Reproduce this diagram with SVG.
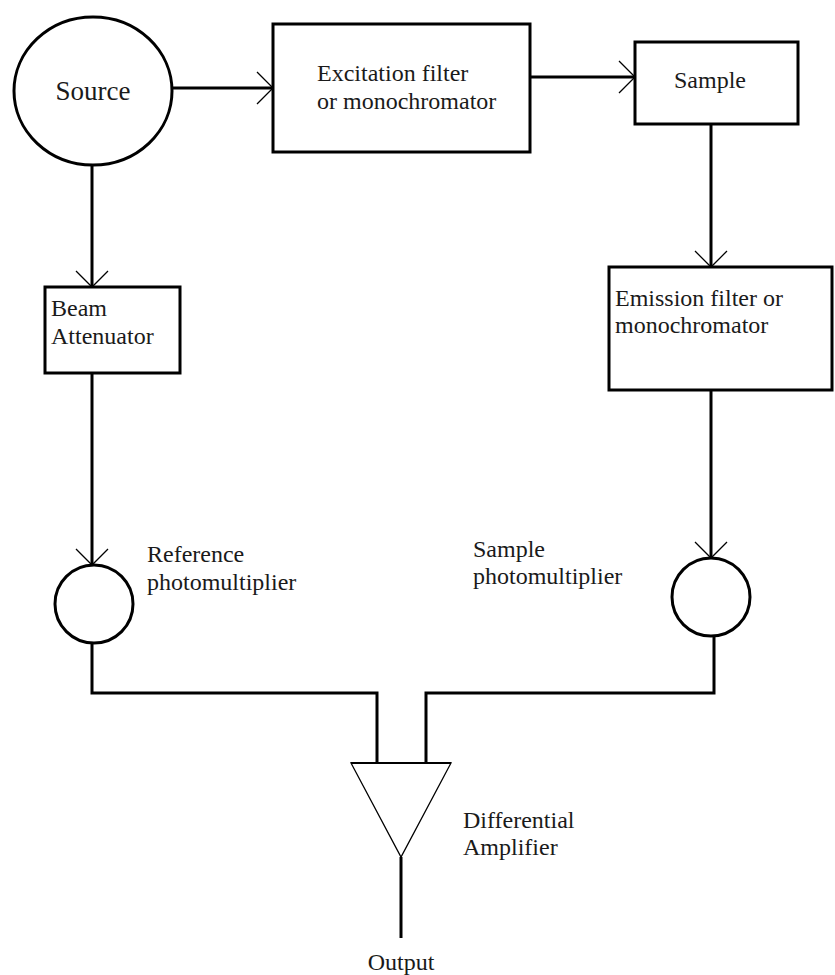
<svg xmlns="http://www.w3.org/2000/svg" width="835" height="975" viewBox="0 0 835 975" font-family="'Liberation Serif', 'Times New Roman', 'DejaVu Serif', serif">
<style>
.shape{fill:#fff;stroke:#000;stroke-width:3}
.wire{fill:none;stroke:#000;stroke-width:3}
.thin{fill:#fff;stroke:#000;stroke-width:1.3}
.lbl{font-family:'Liberation Serif','Times New Roman','DejaVu Serif',serif;font-size:24px;fill:#1a1a1a}
</style>
<defs>
<marker id="arr" markerUnits="userSpaceOnUse" markerWidth="40" markerHeight="40" viewBox="-20 -20 40 40" refX="0" refY="0" orient="auto">
<path d="M-16,-16 L0,0 L-16,16" fill="none" stroke="#000" stroke-width="1.3"/>
</marker>
</defs>
<rect width="835" height="975" fill="#fff"/>
<g id="connectors">
<path class="wire" d="M172,88 H273" marker-end="url(#arr)"/>
<path class="wire" d="M530,77 H635" marker-end="url(#arr)"/>
<path class="wire" d="M711,124 V267" marker-end="url(#arr)"/>
<path class="wire" d="M92,165 V287" marker-end="url(#arr)"/>
<path class="wire" d="M92,373 V565" marker-end="url(#arr)"/>
<path class="wire" d="M711,390 V558" marker-end="url(#arr)"/>
<path class="wire" d="M92,643 V693 H377 V763"/>
<path class="wire" d="M714,636 V693 H426 V763"/>
<path class="wire" d="M401,857 V938"/>
</g>
<g id="source">
<ellipse class="shape" cx="93" cy="91" rx="79" ry="74"/>
<text class="lbl" x="93" y="100" text-anchor="middle" style="font-size:27px">Source</text>
</g>
<g id="excitation">
<rect class="shape" x="273" y="24" width="257" height="128"/>
<text class="lbl" x="317" y="81">Excitation filter</text>
<text class="lbl" x="317" y="109">or monochromator</text>
</g>
<g id="sample">
<rect class="shape" x="635" y="42" width="163" height="82"/>
<text class="lbl" x="710" y="88" text-anchor="middle">Sample</text>
</g>
<g id="emission">
<rect class="shape" x="609" y="267" width="223" height="123"/>
<text class="lbl" x="615" y="306">Emission filter or</text>
<text class="lbl" x="615" y="333">monochromator</text>
</g>
<g id="beam">
<rect class="shape" x="45" y="287" width="135" height="86"/>
<text class="lbl" x="51" y="316">Beam</text>
<text class="lbl" x="51" y="344">Attenuator</text>
</g>
<g id="refpm">
<circle class="shape" cx="94" cy="604" r="39"/>
<text class="lbl" x="147" y="562">Reference</text>
<text class="lbl" x="147" y="590">photomultiplier</text>
</g>
<g id="samplepm">
<circle class="shape" cx="711" cy="597" r="39"/>
<text class="lbl" x="473" y="557">Sample</text>
<text class="lbl" x="473" y="584">photomultiplier</text>
</g>
<g id="amplifier">
<path class="thin" d="M351,763 H451 L401,857 Z"/>
<path d="M351,763 H451" stroke="#000" stroke-width="2"/>
<text class="lbl" x="463" y="828">Differential</text>
<text class="lbl" x="463" y="855">Amplifier</text>
</g>
<g id="output">
<text class="lbl" x="401" y="970" text-anchor="middle">Output</text>
</g>
</svg>
